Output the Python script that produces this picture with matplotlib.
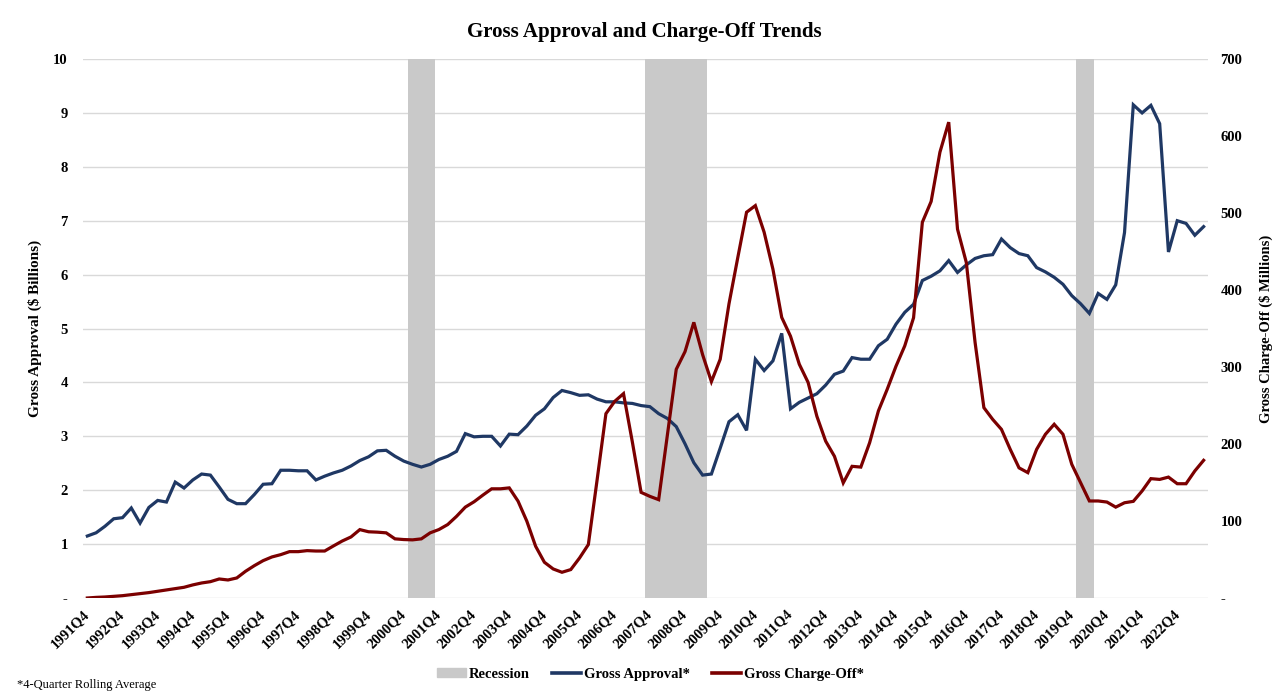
import numpy as np
import matplotlib
matplotlib.use("Agg")
import matplotlib.pyplot as plt
from matplotlib.patches import Patch
from matplotlib.lines import Line2D

# quarterly labels 1991Q4 .. 2023Q3
quarters = ["1991Q4"] + [f"{y}Q{q}" for y in range(1992, 2024) for q in range(1, 5)]
quarters = quarters[:128]

# Gross approval, 4-quarter rolling average ($ billions)
approval = [1.15, 1.21, 1.33, 1.47, 1.49, 1.67, 1.39, 1.68, 1.81, 1.78, 2.15, 2.04, 2.19, 2.30, 2.28, 2.06,
            1.83, 1.75, 1.75, 1.92, 2.11, 2.12, 2.37, 2.37, 2.36, 2.36, 2.19, 2.26, 2.32, 2.37, 2.45, 2.55,
            2.62, 2.73, 2.74, 2.63, 2.54, 2.48, 2.43, 2.48, 2.57, 2.63, 2.72, 3.05, 2.99, 3.00, 3.00, 2.82,
            3.04, 3.03, 3.19, 3.39, 3.51, 3.72, 3.85, 3.81, 3.76, 3.77, 3.69, 3.64, 3.64, 3.62, 3.61, 3.57,
            3.55, 3.42, 3.33, 3.18, 2.86, 2.51, 2.28, 2.30, 2.78, 3.27, 3.40, 3.11, 4.43, 4.22, 4.40, 4.91,
            3.51, 3.63, 3.71, 3.79, 3.95, 4.15, 4.21, 4.46, 4.43, 4.43, 4.68, 4.80, 5.08, 5.30, 5.45, 5.89,
            5.97, 6.07, 6.26, 6.04, 6.18, 6.30, 6.35, 6.37, 6.66, 6.50, 6.39, 6.35, 6.13, 6.05, 5.95, 5.82,
            5.61, 5.46, 5.28, 5.65, 5.54, 5.81, 6.78, 9.15, 9.00, 9.14, 8.80, 6.42, 7.00, 6.95, 6.73, 6.89]

# Gross charge-off, 4-quarter rolling average ($ millions)
chargeoff = [0, 0.8, 1.3, 2.2, 3.0, 4.3, 5.6, 7, 8.7, 10.4, 12, 13.9, 17, 19.5, 21.2, 24.7,
             23.4, 26, 34.7, 42, 48.5, 53.3, 56.3, 60.2, 60.2, 61.5, 61, 61, 67.6, 74, 79.3, 88.8,
             86, 85.5, 84.6, 76.8, 75.9, 75.5, 76.8, 84.6, 88.9, 95.4, 106, 118, 125, 133.6, 141.8, 141.8,
             143, 125.8, 99.8, 67.2, 46.4, 37.7, 33.4, 36.9, 52, 69.4, 153.7, 239.4, 255.4, 265.4, 203, 137.2,
             132, 127.7, 212, 297, 320, 358, 316, 281, 310, 382, 442, 501, 509.6, 475, 427, 364.4,
             340, 303.6, 280, 236, 203.7, 184, 149.5, 171, 170, 201.6, 243, 271, 301, 327.5, 364, 488,
             515, 579, 618, 479, 435.8, 331.8, 247.2, 232, 219, 193, 169, 162.8, 193, 212.6, 225.6, 212.6,
             173.6, 149.7, 126, 126, 124.6, 118, 123.7, 125.5, 139, 155, 154, 157, 148.4, 148.4, 165, 178.8]

recession_quarters = ["2001Q1", "2001Q2", "2001Q3",
                      "2007Q4", "2008Q1", "2008Q2", "2008Q3", "2008Q4", "2009Q1", "2009Q2",
                      "2020Q1", "2020Q2"]

left_ticks = [0, 1, 2, 3, 4, 5, 6, 7, 8, 9, 10]
left_labels = ["-", "1", "2", "3", "4", "5", "6", "7", "8", "9", "10"]
right_ticks = [0, 100, 200, 300, 400, 500, 600, 700]
right_labels = ["-", "100", "200", "300", "400", "500", "600", "700"]

BLUE = "#1f3864"
RED = "#7b0000"
GRAY = "#c9c9c9"
plt.rcParams["font.family"] = ["Liberation Serif", "DejaVu Serif"]

x = np.arange(len(quarters))
recession = np.array([10 if q in recession_quarters else 0 for q in quarters])

fig = plt.figure(figsize=(12.88, 6.91), dpi=100)
ax = fig.add_axes([0.0644, 0.1346, 0.8735, 0.78])
ax2 = ax.twinx()

ax.bar(x, recession, width=1.0, color=GRAY, zorder=1)
ax.plot(x, approval, color=BLUE, lw=2.3, zorder=3, solid_joinstyle="miter")
ax2.plot(x, chargeoff, color=RED, lw=2.3, zorder=3, solid_joinstyle="miter")

ax.set_xlim(-0.5, len(quarters) - 0.5)
ax.set_ylim(0, 10)
ax2.set_ylim(0, 700)
ax.set_yticks(left_ticks)
ax.set_yticklabels(left_labels, fontsize=10.5, fontweight="bold")
ax2.set_yticks(right_ticks)
ax2.set_yticklabels(right_labels, fontsize=10.5, fontweight="bold")
ax.grid(axis="y", color="#d9d9d9", lw=1.0, zorder=0)
ax.set_axisbelow(True)

ax.set_xticks(x[::4])
ax.set_xticklabels(quarters[::4], rotation=45, ha="right", va="center",
                   rotation_mode="anchor", fontsize=10.5, fontweight="bold")

for a in (ax, ax2):
    for s in a.spines.values():
        s.set_visible(False)
    a.tick_params(length=0)
ax.tick_params(axis="y", pad=11)
ax2.tick_params(axis="y", pad=9)
ax.tick_params(axis="x", pad=10)

ax.set_ylabel("Gross Approval ($ Billions)", fontsize=11, fontweight="bold", labelpad=8)
ax2.set_ylabel("Gross Charge-Off ($ Millions)", fontsize=10.5, fontweight="bold", labelpad=12)

fig.suptitle("Gross Approval and Charge-Off Trends", fontsize=15, fontweight="bold", y=0.968)

handles = [Patch(color=GRAY, label="Recession"),
           Line2D([], [], color=BLUE, lw=2.6, label="Gross Approval*"),
           Line2D([], [], color=RED, lw=2.6, label="Gross Charge-Off*")]
fig.legend(handles=handles, loc="center", bbox_to_anchor=(0.505, 0.024), ncol=3, frameon=False,
           prop={"size": 10.5, "weight": "bold"}, handlelength=2.0, handleheight=0.55,
           columnspacing=1.5, handletextpad=0.2)

fig.text(0.013, 0.004, "*4-Quarter Rolling Average", fontsize=9)

fig.savefig("out.png", dpi=100)
